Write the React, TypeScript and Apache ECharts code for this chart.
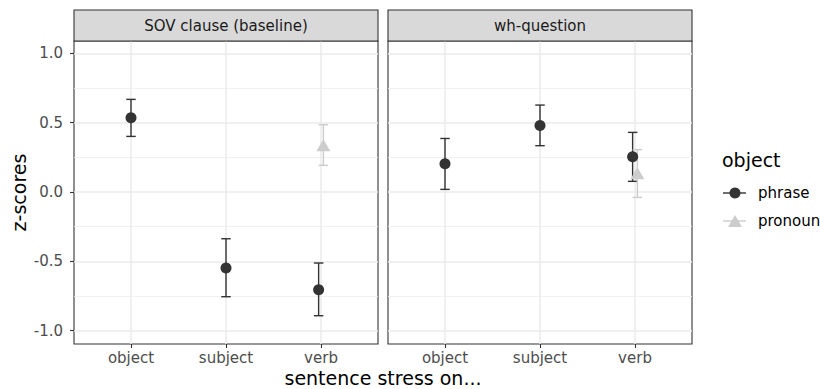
import React, { useEffect, useRef } from "react";
import * as echarts from "echarts";

// ---- data ----
const categories = ["object", "subject", "verb"];
const panels = ["SOV clause (baseline)", "wh-question"];
const groups = ["phrase", "pronoun"];

// panel 0: SOV clause (baseline)
const sovPhraseMean = [0.535, -0.548, -0.704];
const sovPhraseLow = [0.401, -0.755, -0.892];
const sovPhraseHigh = [0.668, -0.337, -0.512];
const sovPronounMean = [null, null, 0.338];
const sovPronounLow = [null, null, 0.192];
const sovPronounHigh = [null, null, 0.485];

// panel 1: wh-question
const whPhraseMean = [0.204, 0.48, 0.254];
const whPhraseLow = [0.019, 0.334, 0.077];
const whPhraseHigh = [0.386, 0.627, 0.43];
const whPronounMean = [null, null, 0.135];
const whPronounLow = [null, null, -0.039];
const whPronounHigh = [null, null, 0.305];

const yTicks = [-1, -0.5, 0, 0.5, 1];
const yMinorTicks = [-0.75, -0.25, 0.25, 0.75];

const panelData = [
  {
    phrase: { mean: sovPhraseMean, low: sovPhraseLow, high: sovPhraseHigh },
    pronoun: { mean: sovPronounMean, low: sovPronounLow, high: sovPronounHigh },
  },
  {
    phrase: { mean: whPhraseMean, low: whPhraseLow, high: whPhraseHigh },
    pronoun: { mean: whPronounMean, low: whPronounLow, high: whPronounHigh },
  },
];

const FONT = "DejaVu Sans";
const COLORS: Record<string, string> = { phrase: "#333333", pronoun: "#cccccc" };
const DODGE = 0.025;

const GRID_TOP = 41;
const GRID_H = 303;
const GRID_W = 304;
const GRID_LEFTS = [74, 388];
const Y_MIN = -1.096;
const Y_MAX = 1.089;

export default function App() {
  const ref = useRef<HTMLDivElement>(null);

  useEffect(() => {
    if (!ref.current) return;
    const chart = echarts.init(ref.current, null, { renderer: "svg" });

    const grid: any[] = GRID_LEFTS.map((left) => ({
      left,
      top: GRID_TOP,
      width: GRID_W,
      height: GRID_H,
      show: true,
      backgroundColor: "#ffffff",
      borderColor: "#333333",
      borderWidth: 1.1,
      z: 0,
    }));

    const xAxis: any[] = GRID_LEFTS.map((_, i) => ({
      type: "value",
      gridIndex: i,
      min: 0.4,
      max: 3.6,
      axisLine: { show: false, onZero: false },
      axisTick: {
        show: true,
        length: 4,
        customValues: [1, 2, 3],
        lineStyle: { color: "#333333", width: 1.1 },
      },
      axisLabel: {
        customValues: [1, 2, 3],
        formatter: (v: number) => categories[Math.round(v) - 1] ?? "",
        color: "#4d4d4d",
        fontSize: 15,
        fontFamily: FONT,
        margin: 6,
      },
      splitLine: { show: true, lineStyle: { color: "#ebebeb", width: 1.5 } },
    }));

    const yAxis: any[] = [];
    GRID_LEFTS.forEach((_, i) => {
      yAxis.push({
        type: "value",
        gridIndex: i,
        min: Y_MIN,
        max: Y_MAX,
        axisLine: { show: false, onZero: false },
        axisTick: {
          show: i === 0,
          length: 4,
          customValues: yTicks,
          lineStyle: { color: "#333333", width: 1.1 },
        },
        axisLabel: {
          show: i === 0,
          customValues: yTicks,
          formatter: (v: number) => v.toFixed(1),
          color: "#4d4d4d",
          fontSize: 15,
          fontFamily: FONT,
          margin: 11,
        },
        splitLine: { show: true, lineStyle: { color: "#ebebeb", width: 1.5 } },
      });
    });
    GRID_LEFTS.forEach((_, i) => {
      yAxis.push({
        type: "value",
        gridIndex: i,
        min: Y_MIN,
        max: Y_MAX,
        axisLine: { show: false, onZero: false },
        axisTick: { show: false, customValues: yMinorTicks },
        axisLabel: { show: false, customValues: yMinorTicks },
        splitLine: { show: true, lineStyle: { color: "#eeeeee", width: 0.8 } },
      });
    });

    const series: any[] = [];
    panelData.forEach((pd: any, p) => {
      groups.forEach((g, gi) => {
        const d = pd[g];
        const other = pd[groups[1 - gi]];
        const bars: any[] = [];
        const pts: any[] = [];
        categories.forEach((_, ci) => {
          if (d.mean[ci] == null) return;
          const both = other.mean[ci] != null;
          const x = ci + 1 + (both ? (gi === 0 ? -DODGE : DODGE) : 0);
          bars.push([x, d.low[ci], d.high[ci]]);
          pts.push([x, d.mean[ci]]);
        });
        series.push({
          type: "custom",
          name: g,
          xAxisIndex: p,
          yAxisIndex: p,
          z: 3 + gi,
          data: bars,
          renderItem: (_params: any, api: any) => {
            const x = api.value(0);
            const lo = api.coord([x, api.value(1)]);
            const hi = api.coord([x, api.value(2)]);
            const hw = api.size([0.1, 0])[0] / 2;
            const style = { stroke: COLORS[g], lineWidth: 1.4 };
            return {
              type: "group",
              children: [
                { type: "line", shape: { x1: lo[0], y1: lo[1], x2: hi[0], y2: hi[1] }, style },
                { type: "line", shape: { x1: lo[0] - hw, y1: lo[1], x2: lo[0] + hw, y2: lo[1] }, style },
                { type: "line", shape: { x1: hi[0] - hw, y1: hi[1], x2: hi[0] + hw, y2: hi[1] }, style },
              ],
            };
          },
        });
        series.push({
          type: "scatter",
          name: g,
          xAxisIndex: p,
          yAxisIndex: p,
          z: 5 + gi,
          symbol: gi === 0 ? "circle" : "triangle",
          symbolSize: gi === 0 ? 11 : [14, 12],
          itemStyle: { color: COLORS[g], opacity: 1 },
          data: pts,
        });
      });
    });

    const graphic: any[] = [];
    panels.forEach((name, i) => {
      const left = GRID_LEFTS[i];
      graphic.push({
        type: "rect",
        shape: { x: left, y: 10, width: GRID_W, height: 31 },
        style: { fill: "#d9d9d9", stroke: "#333333", lineWidth: 1.1 },
        z: 10,
      });
      graphic.push({
        type: "text",
        x: left + GRID_W / 2,
        y: 25.5,
        style: {
          text: name,
          align: "center",
          verticalAlign: "middle",
          fontSize: 15,
          fontFamily: FONT,
          fill: "#1a1a1a",
        },
        z: 11,
      });
    });
    graphic.push({
      type: "text",
      x: 18.5,
      y: 192.5,
      rotation: Math.PI / 2,
      style: {
        text: "z-scores",
        align: "center",
        verticalAlign: "middle",
        fontSize: 19,
        fontFamily: FONT,
        fill: "#000000",
      },
    });
    graphic.push({
      type: "text",
      x: (GRID_LEFTS[0] + GRID_LEFTS[1] + GRID_W) / 2,
      y: 378,
      style: {
        text: "sentence stress on...",
        align: "center",
        verticalAlign: "middle",
        fontSize: 19,
        fontFamily: FONT,
        fill: "#000000",
      },
    });
    // legend
    graphic.push({
      type: "text",
      x: 722,
      y: 160,
      style: { text: "object", verticalAlign: "middle", fontSize: 19, fontFamily: FONT, fill: "#000000" },
    });
    const legendY = [193, 221];
    groups.forEach((g, gi) => {
      const y = legendY[gi];
      graphic.push({
        type: "line",
        shape: { x1: 723, y1: y, x2: 746, y2: y },
        style: { stroke: COLORS[g], lineWidth: 1.4 },
      });
      if (gi === 0) {
        graphic.push({ type: "circle", shape: { cx: 735, cy: y, r: 5.5 }, style: { fill: COLORS[g] } });
      } else {
        graphic.push({
          type: "polygon",
          shape: { points: [[735, y - 6], [742, y + 6], [728, y + 6]] },
          style: { fill: COLORS[g] },
        });
      }
      graphic.push({
        type: "text",
        x: 758,
        y,
        style: { text: g, verticalAlign: "middle", fontSize: 15, fontFamily: FONT, fill: "#000000" },
      });
    });

    chart.setOption({
      animation: false,
      backgroundColor: "#ffffff",
      textStyle: { fontFamily: FONT },
      grid,
      xAxis,
      yAxis,
      series,
      graphic,
    });
    return () => chart.dispose();
  }, []);

  return (
    <div
      ref={ref}
      style={{ position: "fixed", left: 0, top: 0, width: 820, height: 389 }}
    />
  );
}
